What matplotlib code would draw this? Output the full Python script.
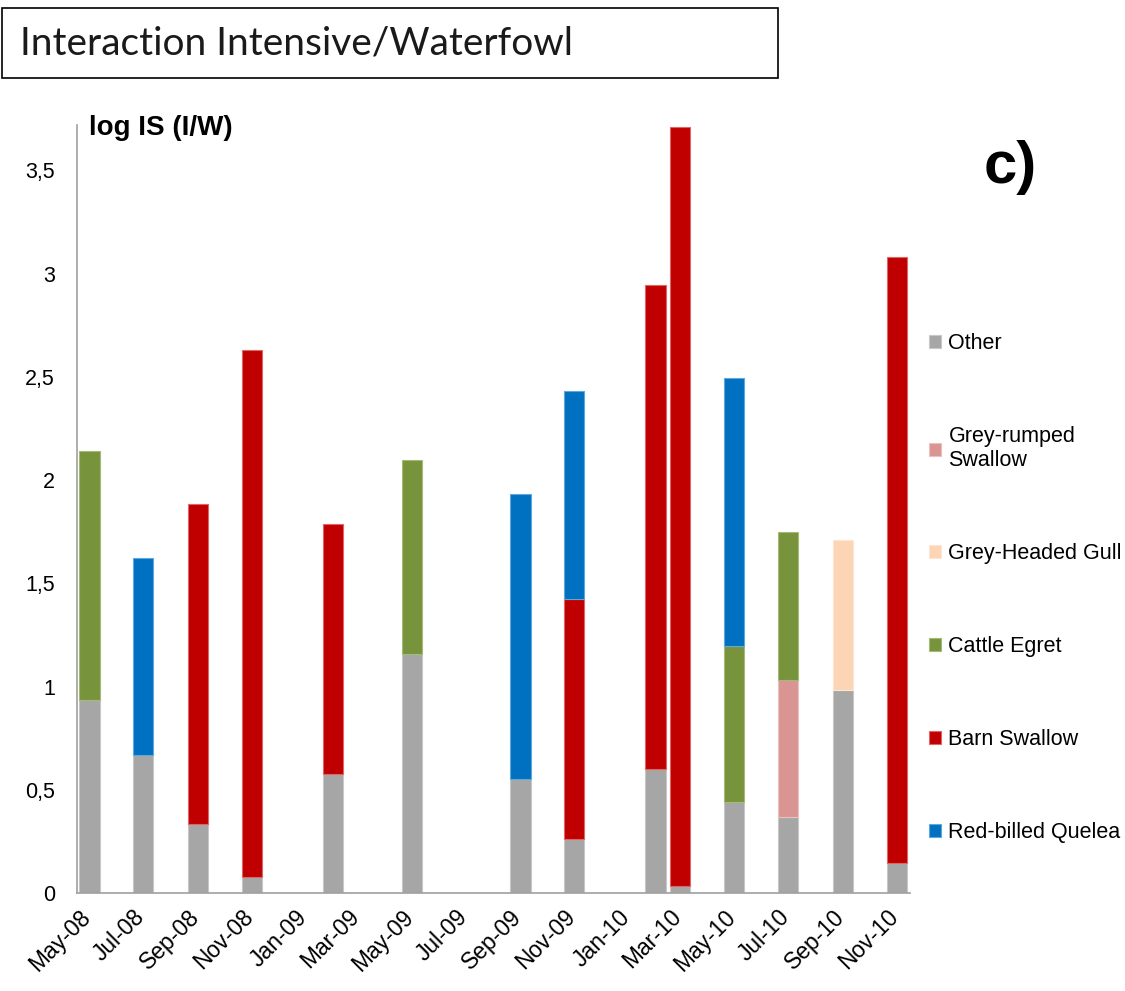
import datetime as dt
import matplotlib
matplotlib.use("Agg")
import matplotlib.pyplot as plt
import matplotlib.dates as mdates
from matplotlib.patches import Rectangle
from matplotlib.transforms import ScaledTranslation

# sampling months (first of month)
months = ["2008-05", "2008-07", "2008-09", "2008-11", "2009-02", "2009-05", "2009-09",
          "2009-11", "2010-02", "2010-03", "2010-05", "2010-07", "2010-09", "2010-11"]

# segment heights, stacked bottom -> top
other        = [0.934, 0.668, 0.334, 0.077, 0.576, 1.157, 0.552, 0.261, 0.600, 0.034, 0.440, 0.368, 0.983, 0.145]
grey_rumped  = [0, 0, 0, 0, 0, 0, 0, 0, 0, 0, 0, 0.663, 0, 0]
grey_headed  = [0, 0, 0, 0, 0, 0, 0, 0, 0, 0, 0, 0, 0.726, 0]
cattle_egret = [1.205, 0, 0, 0, 0, 0.939, 0, 0, 0, 0, 0.756, 0.716, 0, 0]
barn_swallow = [0, 0, 1.549, 2.551, 1.210, 0, 0, 1.162, 2.343, 3.674, 0, 0, 0, 2.938]
quelea       = [0, 0.953, 0, 0, 0, 0, 1.379, 1.007, 0, 0, 1.297, 0, 0, 0]

series = [
    ("Other", other, "#A6A6A6", "#C8C8C8"),
    ("Grey-rumped\nSwallow", grey_rumped, "#D99594", "#EBC0BF"),
    ("Grey-Headed Gull", grey_headed, "#FCD5B5", "#FDE6D3"),
    ("Cattle Egret", cattle_egret, "#77933C", "#A4BB78"),
    ("Barn Swallow", barn_swallow, "#C00000", "#E06666"),
    ("Red-billed Quelea", quelea, "#0070C0", "#5FA8DD"),
]

dates = [dt.datetime.strptime(m + "-01", "%Y-%m-%d") for m in months]

plt.rcParams['font.family'] = ['Liberation Sans', 'DejaVu Sans']

fig = plt.figure(figsize=(11.25, 9.91), dpi=100)
ax = fig.add_axes([77/1125, 98/991, 833/1125, 768/991])

bottom = [0.0] * len(dates)
handles = []
for name, vals, col, edge in series:
    idx = [i for i, v in enumerate(vals) if v > 0]
    b = ax.bar([dates[i] for i in idx], [vals[i] for i in idx], width=23,
               bottom=[bottom[i] for i in idx], color=col, edgecolor=edge,
               linewidth=0.8, label=name, align='center')
    handles.append(b)
    bottom = [bb + v for bb, v in zip(bottom, vals)]

ax.set_xlim(dt.datetime(2008, 4, 17), dt.datetime(2010, 11, 16))
ax.set_ylim(0, 3.72)

ax.xaxis.set_major_locator(mdates.MonthLocator(bymonth=[1, 3, 5, 7, 9, 11]))
ax.xaxis.set_major_formatter(mdates.DateFormatter("%b-%y"))
ax.set_yticks([0, 0.5, 1, 1.5, 2, 2.5, 3, 3.5])
ax.set_yticklabels(["0", "0,5", "1", "1,5", "2", "2,5", "3", "3,5"])

ax.tick_params(axis='y', length=0, pad=16, labelsize=15.5)
ax.tick_params(axis='x', length=0, pad=9, labelsize=16.5)
for lab in ax.get_xticklabels():
    lab.set_rotation(45)
    lab.set_ha('right')
    lab.set_transform(lab.get_transform() + ScaledTranslation(6/100, 0, fig.dpi_scale_trans))

for s in ['top', 'right']:
    ax.spines[s].set_visible(False)
for s in ['left', 'bottom']:
    ax.spines[s].set_color('#A0A0A0')
    ax.spines[s].set_linewidth(1.2)

leg = fig.legend(handles=handles, loc='center left', bbox_to_anchor=(929/1125, 0.4065),
                 frameon=False, fontsize=15.5, handlelength=0.55, handleheight=0.55,
                 handletextpad=0.35, labelspacing=3.34, borderpad=0, borderaxespad=0)

# title box
fig.patches.append(Rectangle((2/1125, 1 - 78/991), 776/1125, 70/991, transform=fig.transFigure,
                             fill=False, edgecolor='black', linewidth=1.2))
fig.text(20/1125, 1 - 44/991, "Interaction Intensive/Waterfowl", family='Lato',
         fontsize=28, va='center', ha='left', color='#1a1a1a')

fig.text(89/1125, 1 - 135/991, "log IS (I/W)", fontsize=20, fontweight='bold', va='baseline')
fig.text(984/1125, 1 - 183/991, "c)", fontsize=43, fontweight='bold', va='baseline')

fig.savefig("out.png", dpi=100)
